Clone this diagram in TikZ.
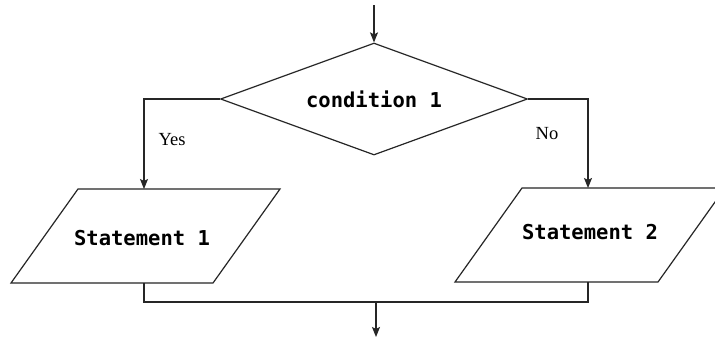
\documentclass[tikz,border=0pt]{standalone}
\usepackage{fontspec}
\setmainfont{Liberation Serif}
\newfontfamily\codefont{DejaVu Sans Mono}
\usetikzlibrary{shapes.geometric,arrows.meta}
\begin{document}
\begin{tikzpicture}[x=1pt,y=-1pt,
  line width=1.2pt,
  conn/.style={draw=black!85},
  arr/.style={conn,-{Stealth[length=10pt,width=8pt,inset=2pt]}},
  codetext/.style={font=\codefont\bfseries\fontsize{20.5}{23}\selectfont},
  lbl/.style={font=\fontsize{18.5}{20}\selectfont},
  decision/.style={diamond,draw=black!85,aspect=2.74,minimum width=307pt,minimum height=112pt,inner sep=0pt},
  io/.style={draw=black!85,line join=miter}]
\useasboundingbox (0,0) rectangle (715,341);
\fill[white] (0,0) rectangle (715,341);
% entry
\coordinate (start) at (374,5);
\node[decision,codetext] (cond) at (374,99) {condition 1};
\draw[arr] (start) -- (cond.north);
% statement 1
\draw[io] (78,189) -- (280,189) -- (213,283) -- (11,283) -- cycle;
\coordinate (s1top) at (144,189);
\coordinate (s1bot) at (144,283);
\node[codetext] (s1) at (142,238) {Statement 1};
% statement 2
\draw[io] (522,188) -- (725,188) -- (658,282) -- (455,282) -- cycle;
\coordinate (s2top) at (588,188);
\coordinate (s2bot) at (588,282);
\node[codetext] (s2) at (590,232) {Statement 2};
% branches
\draw[arr] (cond.west) -| (s1top);
\draw[arr] (cond.east) -| (s2top);
\node[lbl] (yes) at (172,140) {Yes};
\node[lbl] (no) at (547,134) {No};
% merge
\coordinate (mergeL) at (144,302);
\coordinate (mergeR) at (588,302);
\coordinate (mid) at (376,302);
\coordinate (exit) at (376,337);
\draw[conn] (s1bot) -- (mergeL) -- (mergeR) -- (s2bot);
\draw[arr] (mid) -- (exit);
\end{tikzpicture}
\end{document}
